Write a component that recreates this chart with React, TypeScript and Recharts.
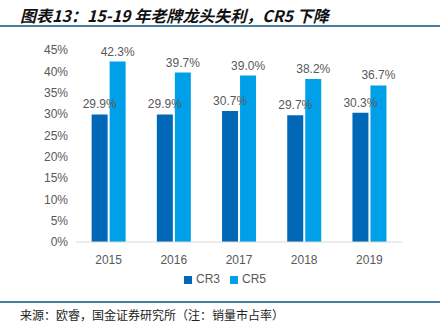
import { Bar, BarChart, LabelList, Legend, XAxis, YAxis } from "recharts"

const years = ["2015", "2016", "2017", "2018", "2019"]
const cr3 = [29.9, 29.9, 30.7, 29.7, 30.3]
const cr5 = [42.3, 39.7, 39.0, 38.2, 36.7]
const yTicks = [0, 5, 10, 15, 20, 25, 30, 35, 40, 45]

const data = years.map((year, i) => ({ year, CR3: cr3[i], CR5: cr5[i] }))

const gray = "#595959"
const font = "'Liberation Sans', Arial, sans-serif"

const App = () => {
  return (
    <div
      style={{
        position: "absolute",
        left: 0,
        top: 0,
        width: 440,
        height: 326,
        background: "#fff",
        fontFamily: font
      }}
    >
      <div
        style={{
          position: "absolute",
          left: 20,
          top: 3,
          fontSize: 16,
          fontWeight: "bold",
          fontStyle: "italic",
          fontFamily: "'Noto Sans CJK SC', sans-serif",
          color: "#111",
          whiteSpace: "nowrap"
        }}
      >
        图表13：15-19 年老牌龙头失利，CR5 下降
      </div>
      <div
        style={{
          position: "absolute",
          left: 0,
          top: 25,
          width: 440,
          height: 2,
          background: "#4a7fa4"
        }}
      />
      <div style={{ position: "absolute", left: 0, top: 0 }}>
        <BarChart
          data={data}
          width={440}
          height={300}
          margin={{ top: 50, right: 38, left: 0, bottom: 14 }}
          barCategoryGap="24%"
          barGap={2}
        >
          <XAxis
            dataKey="year"
            height={20}
            tickLine={false}
            axisLine={{ stroke: "#d9d9d9" }}
            tick={{ fill: gray, fontSize: 12, fontFamily: font }}
            tickMargin={7}
          />
          <YAxis
            width={76}
            domain={[0, 45]}
            ticks={yTicks}
            interval={0}
            axisLine={false}
            tickLine={false}
            tickFormatter={(v: number) => `${v}%`}
            tick={{ fill: gray, fontSize: 12, fontFamily: font }}
          />
          <Legend
            verticalAlign="bottom"
            height={24}
            iconType="square"
            iconSize={8}
            wrapperStyle={{
              left: 170,
              top: 272,
              width: 120,
              fontSize: 12,
              fontFamily: font,
              lineHeight: "14px"
            }}
            formatter={(value: string) => <span style={{ color: gray }}>{value}</span>}
          />
          <Bar dataKey="CR3" fill="#0068b7" isAnimationActive={false}>
            <LabelList
              dataKey="CR3"
              position="top"
              offset={6}
              fill={gray}
              fontSize={12}
              formatter={(v: number) => `${v.toFixed(1)}%`}
            />
          </Bar>
          <Bar dataKey="CR5" fill="#00a0e9" isAnimationActive={false}>
            <LabelList
              dataKey="CR5"
              position="top"
              offset={6}
              fill={gray}
              fontSize={12}
              formatter={(v: number) => `${v.toFixed(1)}%`}
            />
          </Bar>
        </BarChart>
      </div>
      <div
        style={{
          position: "absolute",
          left: 0,
          top: 301,
          width: 440,
          height: 2,
          background: "#4a7fa4"
        }}
      />
      <div
        style={{
          position: "absolute",
          left: 20,
          top: 306,
          fontSize: 12,
          fontFamily: "'Noto Sans CJK SC', serif",
          color: "#222",
          whiteSpace: "nowrap"
        }}
      >
        来源：欧睿，国金证券研究所（注：销量市占率）
      </div>
    </div>
  )
}

export default App
